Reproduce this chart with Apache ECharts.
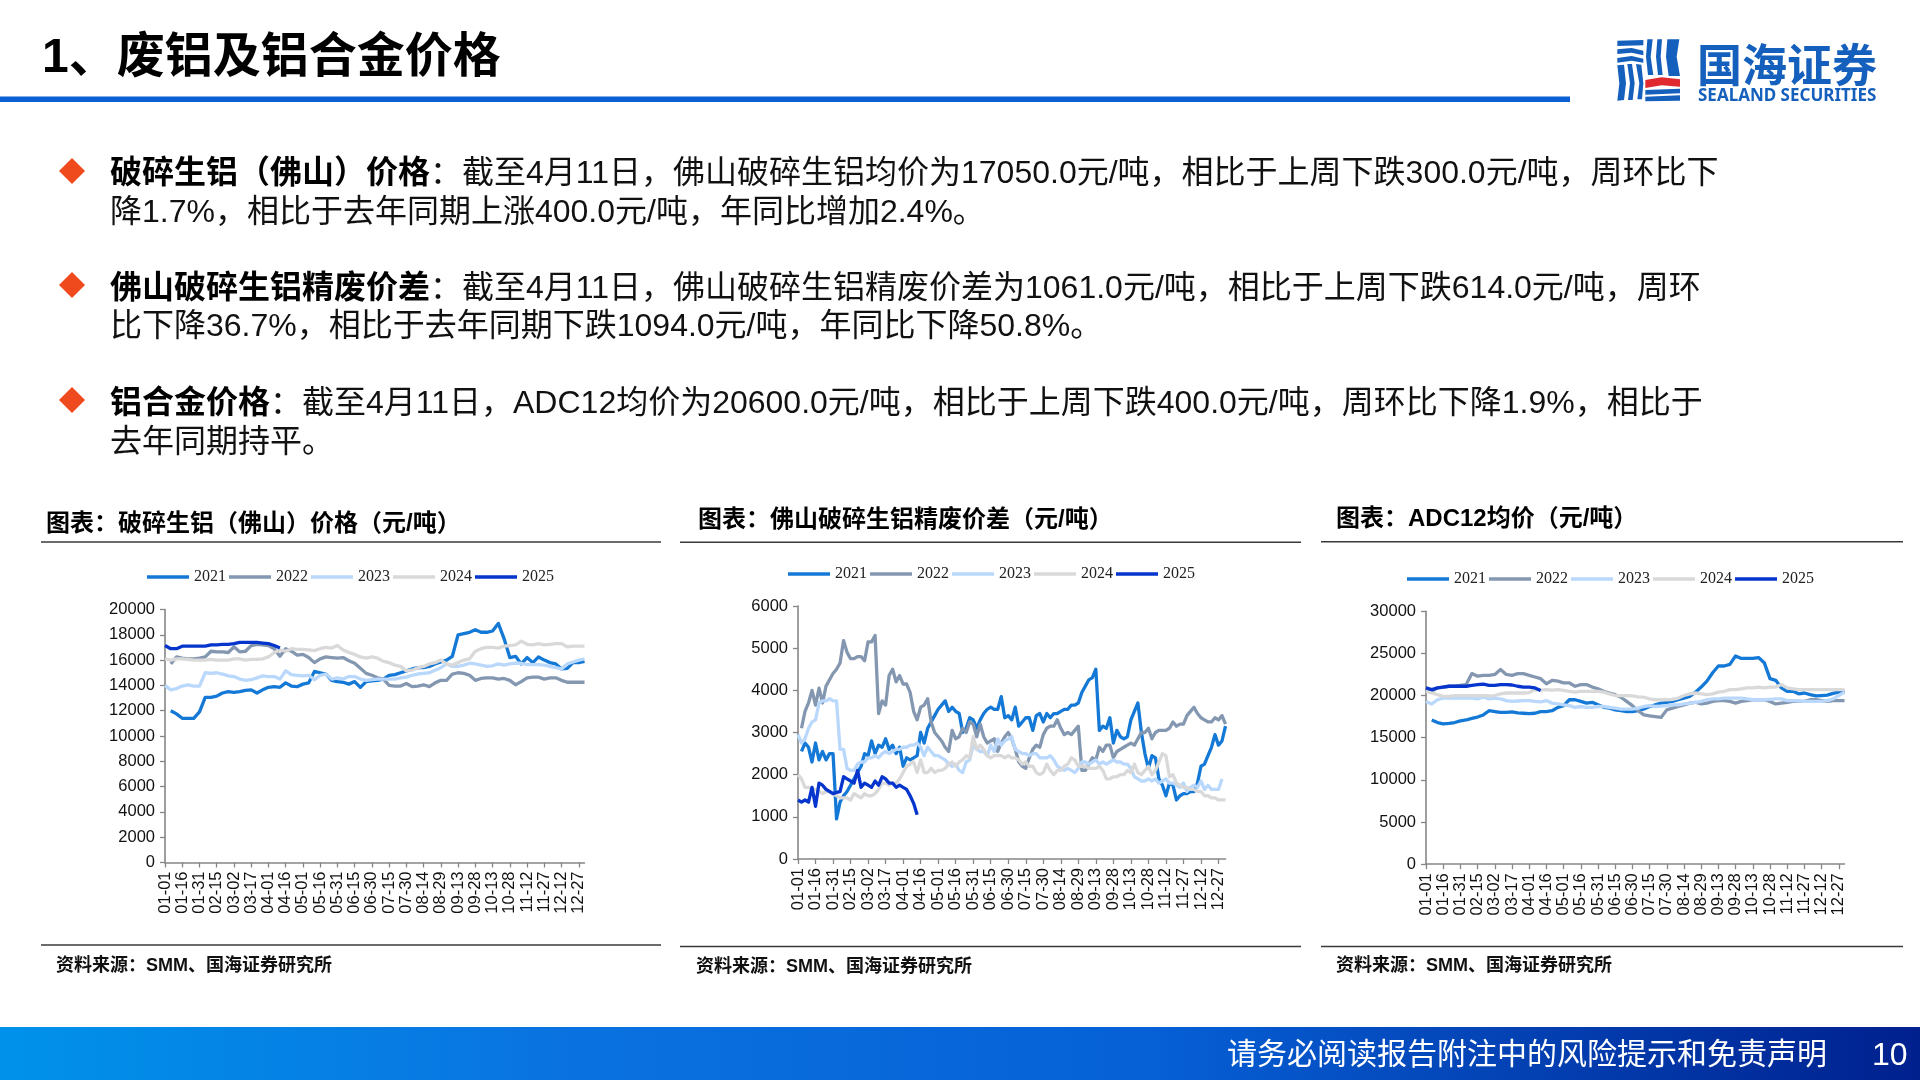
<!DOCTYPE html>
<html><head><meta charset="utf-8">
<style>html,body{margin:0;padding:0;background:#fff}#c{width:1920px;height:1080px}</style>
<script src="https://cdn.jsdelivr.net/npm/echarts@6/dist/echarts.min.js"></script>
</head><body><div id="c"></div>
<script>
const tickLabels=['01-01','01-16','01-31','02-15','03-02','03-17','04-01','04-16','05-01','05-16','05-31','06-15','06-30','07-15','07-30','08-14','08-29','09-13','09-28','10-13','10-28','11-12','11-27','12-12','12-27'];
const years=['2021','2022','2023','2024','2025'];
const colors=['#1479D6','#8497B0','#B9D8FB','#D9D9D9','#0535CC'];

// 破碎生铝（佛山）价格 — one value every 5 days
const scrap2021=[null,12000,11750,11400,11400,11400,11900,13050,13050,13150,13400,13500,13450,13500,13600,13650,13400,13650,13850,13900,13850,14200,13950,13900,14100,14200,15100,15000,14900,14400,14300,14250,14100,14300,13850,14300,14350,14400,14500,14800,14850,15000,15150,15300,15400,15400,15500,15700,15850,16000,16300,18000,18100,18200,18400,18200,18200,18300,18900,17700,16200,16300,15700,16200,15800,16250,16000,15800,15700,15300,15350,15800,15800,15900];
const scrap2022=[null,15700,16250,16150,16100,16100,16150,16250,16700,16650,16650,16600,17050,16650,16700,17150,17250,17200,17150,16900,16300,16900,16700,16400,16450,16200,15800,16100,16250,16200,16150,16200,15950,15750,15350,14950,14800,14600,14500,14000,13950,13950,14150,13900,13950,14050,13900,14200,14400,14400,14900,15000,14950,14800,14400,14550,14600,14600,14500,14550,14400,14050,14300,14600,14650,14650,14500,14600,14600,14400,14250,14250,14250,14250];
const scrap2023=[14000,13650,13750,13950,14050,13950,13950,15000,14950,15000,14900,14750,14700,14500,14400,14450,14600,14750,14700,14700,14500,15150,14850,14800,14750,14800,14450,14800,14900,14500,14600,14500,14700,14700,14500,14400,14450,14500,14500,14500,14500,14600,14650,14800,14900,14950,15000,15200,15400,15700,15500,15500,15600,15750,15700,15600,15500,15550,15700,15600,15700,15750,15750,15650,15650,15650,15600,15500,15400,15300,15700,15850,16000,16100];
const scrap2024=[16100,16000,16100,16100,16050,16000,16000,16000,16050,16000,16000,16000,16100,16100,16000,16050,16050,16100,16250,16600,16800,16700,16900,16850,16850,16800,16750,16900,17000,16950,17150,16800,16600,16450,16250,16150,16250,16150,15900,15800,15600,15500,15150,15200,15400,15500,15700,15800,16000,15700,15600,15800,16000,16100,16700,16900,17000,17000,16950,17100,17150,17200,17500,17250,17200,17300,17200,17250,17300,17300,17050,17100,17100,17100];
const scrap2025=[17150,16900,16900,17100,17100,17100,17100,17100,17200,17200,17250,17250,17300,17400,17400,17400,17400,17350,17300,17150,16950];

// 佛山破碎生铝精废价差 — one value every 3 days
const spread2021=[null,2550,2750,2650,2300,2750,2350,2550,2350,2500,2500,950,1350,1500,1600,1750,1900,2050,2200,2500,2450,2800,2500,2700,2650,2850,2600,2700,2500,2650,2200,2400,2350,2400,2450,3000,2750,3100,3250,3400,3550,3650,3750,3500,3600,3500,3450,3000,3100,3350,3300,3100,3300,3450,3550,3600,3550,3550,3850,3350,3400,3300,3600,3150,3250,3350,3350,3050,3400,3450,3250,3450,3350,3450,3450,3500,3550,3550,3650,3650,3700,3950,4100,4250,4300,4500,3050,3150,3100,3350,2750,3050,2900,2850,2900,3300,3500,3700,3000,2500,2150,2450,2400,1900,1750,1500,1800,1750,1400,1500,1550,1550,1600,1600,1800,2200,2250,2450,2650,2950,2700,2800,3150];
const spread2022=[null,3100,3500,3700,4000,3650,4050,3700,4100,4250,4400,4500,4650,5180,4900,4750,4750,4800,4800,4700,5150,5150,5300,3450,3750,3650,4350,4500,4200,4350,4150,4150,3950,3500,3300,3600,3650,3800,3250,3000,2900,2800,2650,2550,3050,2850,2900,3100,3000,3250,3200,2900,3200,2900,2750,2800,2850,2550,2750,2900,3000,2850,2600,2300,2200,2150,2400,2600,2700,2650,2950,3100,3150,3150,3300,3100,2950,3000,2950,3050,3150,2100,2100,2250,2400,2350,2650,2550,2700,2700,2400,2550,2600,2650,2700,2750,2700,2850,3000,3000,3100,2850,3000,3050,3050,3050,3100,3250,3150,3200,3200,3400,3500,3600,3450,3350,3300,3250,3250,3350,3300,3400,3200];
const spread2023=[2950,2750,2850,3100,3250,3300,3700,3750,3750,3800,3750,3750,2600,2600,2150,2100,2100,2250,2300,2300,2400,2400,2450,2400,2500,2550,2500,2550,2600,2600,2650,2650,2700,2700,2750,2650,2450,2650,2550,2450,2450,2400,2350,2250,2200,2250,2100,2050,2300,2350,2700,2600,2550,2550,2450,2700,2550,2850,2700,2800,2850,2900,2600,2550,2500,2500,2450,2500,2500,2400,2400,2400,2450,2350,2200,2150,2100,2150,2100,2050,2150,2300,2300,2250,2300,2350,2250,2300,2250,2300,2350,2300,2300,2250,2250,2150,1950,1900,1850,1850,1900,1850,1900,1800,1850,1900,1800,1800,1750,1700,1800,1600,1700,1750,1700,1850,1650,1750,1650,1650,1650,1900];
const spread2024=[2000,1900,1700,1700,1650,1650,1600,1550,1600,1600,1550,1500,1450,1450,1450,1400,1550,1500,1450,1550,1500,1500,1550,1650,1800,1800,1750,1800,1800,1900,2050,2200,2250,2300,2050,2350,2050,2050,2150,2050,2100,2100,2150,2250,2300,2200,2300,2350,2450,2400,2900,2600,2700,2600,2450,2400,2450,2450,2450,2400,2450,2400,2400,2350,2250,2300,2200,2200,2050,2000,2050,2250,2100,2000,2100,2100,2200,2250,2400,2350,2200,2200,2200,2150,2150,2150,2200,2100,1900,1900,1950,1950,2000,2000,2100,2050,2250,2050,2000,2100,2200,2000,2100,2300,2500,2450,1950,2000,1800,1750,1700,1700,1650,1650,1600,1600,1500,1500,1450,1450,1400,1400,1400];
const spread2025=[1400,1350,1400,1350,1700,1250,1800,1750,1650,1600,1550,1580,1600,1950,1900,1850,1800,2100,1700,1800,1750,1700,1850,1750,1950,1900,1800,1800,1700,1750,1700,1650,1500,1320,1050];

// ADC12均价 — one value every 5 days
const adc2021=[null,17100,16800,16650,16700,16800,17000,17100,17300,17450,17700,18200,18100,18000,18000,18050,17950,17900,17850,17900,18100,18100,18200,18600,18800,19500,19500,19300,19100,19200,18900,18600,18500,18300,18200,18100,18100,18200,18400,18700,18900,19100,19200,19300,19500,19700,19900,20400,21000,21700,22700,23500,23500,23700,24700,24400,24400,24400,24500,23900,22000,21800,20900,20500,20500,20200,20300,20100,19950,20000,20050,20250,20400,20500];
const adc2022=[20500,20500,20900,21000,21100,21100,21200,21300,22600,22300,22400,22400,22500,23100,22500,22400,22600,22600,22400,22200,22000,21400,21800,21700,21500,21500,21100,21300,21300,21000,20800,20500,20300,20100,19800,19300,18800,18200,17700,17600,17500,17400,18300,18500,18700,18900,19100,19200,19000,19100,19300,19400,19400,19300,19100,19300,19400,19500,19500,19500,19300,19000,19100,19200,19300,19300,19300,19500,19500,19400,19300,19400,19400,19400];
const adc2023=[19300,19000,19500,19700,19700,19700,19700,19700,19700,19600,19800,19600,19700,19600,19400,19300,19350,19400,19400,19300,19250,19400,19100,19000,18900,18800,18600,18700,18600,18600,18700,18700,18600,18500,18400,18400,18400,18500,18700,18800,18700,18750,18800,18900,18900,19000,19100,19200,19300,19500,19600,19600,19700,19700,19700,19700,19600,19500,19500,19500,19550,19600,19600,19400,19400,19350,19300,19300,19300,19300,19400,19600,20000,20400];
const adc2024=[20500,20300,20100,19900,19900,20000,20000,20000,20000,20000,20000,19950,20000,20200,20300,20300,20300,20300,20350,20700,20650,20700,20650,20700,20600,20500,20400,20500,20500,20500,20500,20400,20200,20000,20000,20000,19950,19850,19800,19600,19500,19500,19500,19550,19700,20000,20200,20300,20200,20100,20200,20400,20500,20700,20700,20800,20900,20900,21000,20900,21000,21000,21300,20900,20800,20700,20700,20700,20700,20700,20700,20700,20700,20700];
const adc2025=[20900,20700,20900,21000,21100,21100,21100,21100,21200,21300,21350,21200,21200,21300,21300,21250,21100,21000,21000,20900,20600];

const mainTitle='1、废铝及铝合金价格';
const paragraphs=[
 ['破碎生铝（佛山）价格','：截至4月11日，佛山破碎生铝均价为17050.0元/吨，相比于上周下跌300.0元/吨，周环比下','降1.7%，相比于去年同期上涨400.0元/吨，年同比增加2.4%。'],
 ['佛山破碎生铝精废价差','：截至4月11日，佛山破碎生铝精废价差为1061.0元/吨，相比于上周下跌614.0元/吨，周环','比下降36.7%，相比于去年同期下跌1094.0元/吨，年同比下降50.8%。'],
 ['铝合金价格','：截至4月11日，ADC12均价为20600.0元/吨，相比于上周下跌400.0元/吨，周环比下降1.9%，相比于','去年同期持平。']
];
const chartTitles=['图表：破碎生铝（佛山）价格（元/吨）','图表：佛山破碎生铝精废价差（元/吨）','图表：ADC12均价（元/吨）'];
const sourceText='资料来源：SMM、国海证券研究所';
const footerText='请务必阅读报告附注中的风险提示和免责声明';
const pageNo='10';

const FF='"Liberation Sans","Noto Sans CJK SC",sans-serif';
const panels=[
 {data:[scrap2021,scrap2022,scrap2023,scrap2024,scrap2025],max:20000,step:2000,blanks:2,count:74,
  grid:{left:165,top:609.5,width:419.5,height:253},legendX:147,legendY:569,titleX:46,titleY:525,ruleX:[41,661],ruleY:[542,945],srcX:56,srcY:967},
 {data:[spread2021,spread2022,spread2023,spread2024,spread2025],max:6000,step:1000,blanks:4,count:123,
  grid:{left:798,top:606,width:427.5,height:253},legendX:788,legendY:566,titleX:698,titleY:521,ruleX:[680,1301],ruleY:[542.3,946.5],srcX:696,srcY:968},
 {data:[adc2021,adc2022,adc2023,adc2024,adc2025],max:30000,step:5000,blanks:2,count:74,
  grid:{left:1426,top:611.2,width:418.5,height:253},legendX:1407,legendY:571,titleX:1336,titleY:520,ruleX:[1321,1903],ruleY:[541.7,946.5],srcX:1336,srcY:967}
];
const axisGrey='#868686';
const grid=[],xAxis=[],yAxis=[],legend=[],series=[],graphic=[];
panels.forEach((p,k)=>{
  grid.push(p.grid);
  const cats=tickLabels.flatMap(l=>[l,...Array(p.blanks).fill('')]).slice(0,p.count);
  xAxis.push({type:'category',gridIndex:k,data:cats,boundaryGap:false,
    axisLine:{show:true,onZero:false,lineStyle:{color:axisGrey,width:1.6}},
    axisTick:{show:true,interval:p.blanks,length:5,lineStyle:{color:axisGrey,width:1.3}},
    axisLabel:{interval:p.blanks,rotate:90,margin:9,fontSize:16.5,color:'#111',fontFamily:FF,hideOverlap:false,padding:[11,0,0,0]}});
  yAxis.push({type:'value',gridIndex:k,min:0,max:p.max,interval:p.step,splitLine:{show:false},
    axisLine:{show:true,lineStyle:{color:axisGrey,width:1.6}},
    axisTick:{show:true,length:5,lineStyle:{color:axisGrey,width:1.3}},
    axisLabel:{margin:10,fontSize:16.5,color:'#111',fontFamily:FF,formatter:v=>String(v)}});
  legend.push({left:p.legendX,top:p.legendY,orient:'horizontal',itemWidth:42,itemHeight:3.4,itemGap:3,icon:'rect',
    padding:0,data:years,selectedMode:false,
    textStyle:{fontFamily:'"Liberation Serif",serif',fontSize:16,color:'#222'}});
  years.forEach((y,i)=>series.push({type:'line',name:y,xAxisIndex:k,yAxisIndex:k,data:p.data[i],
    showSymbol:false,symbol:'none',smooth:false,connectNulls:false,animation:false,silent:true,
    lineStyle:{color:colors[i],width:3.3,join:'round'},itemStyle:{color:colors[i]},z:2+i}));
  graphic.push({type:'text',left:p.titleX,top:p.titleY-13,silent:true,style:{text:chartTitles[k],font:'bold 24px '+FF,fill:'#000'}});
  p.ruleY.forEach((ry,j)=>graphic.push({type:'rect',silent:true,shape:{x:p.ruleX[0],y:ry-0.8,width:p.ruleX[1]-p.ruleX[0],height:1.6},style:{fill:'#3a3a3a'}}));
  graphic.push({type:'text',left:p.srcX,top:p.srcY-10,silent:true,style:{text:sourceText,font:'bold 18px '+FF,fill:'#111'}});
});
// header
graphic.push({type:'text',left:42,top:35,silent:true,style:{text:mainTitle,font:'bold 48px '+FF,fill:'#000'}});
graphic.push({type:'rect',silent:true,shape:{x:0,y:96.5,width:1570,height:5.5},style:{fill:'#0A5FD5'}});
// paragraphs
const lineY=[[174,213],[289,327],[404.5,443.5]];
const diaY=[171,285,400];
paragraphs.forEach((par,i)=>{
  graphic.push({type:'polygon',silent:true,shape:{points:[[72,diaY[i]-13],[85,diaY[i]],[72,diaY[i]+13],[59,diaY[i]]]},style:{fill:'#EE4A1E'}});
  graphic.push({type:'text',x:110,y:lineY[i][0],silent:true,style:{verticalAlign:'middle',text:'{b|'+par[0]+'}{n|'+par[1]+'}',
    rich:{b:{font:'bold 32px '+FF,fill:'#000'},n:{font:'32px '+FF,fill:'#111'}}}});
  graphic.push({type:'text',x:110,y:lineY[i][1],silent:true,style:{verticalAlign:'middle',text:par[2],font:'32px '+FF,fill:'#111'}});
});
// footer
graphic.push({type:'rect',silent:true,shape:{x:0,y:1027,width:1920,height:53},style:{fill:new echarts.graphic.LinearGradient(0,0,1,0,[{offset:0,color:'#0092EA'},{offset:0.3,color:'#0A72E0'},{offset:0.6,color:'#0660D6'},{offset:1,color:'#00208E'}])}});
graphic.push({type:'text',x:1227,y:1056,silent:true,z:5,style:{verticalAlign:'middle',text:footerText,font:'30px '+FF,fill:'#fff'}});
graphic.push({type:'text',x:1872,y:1056,silent:true,z:5,style:{verticalAlign:'middle',text:pageNo,font:'32px '+FF,fill:'#fff'}});
// logo
const B='#1560BC';
const lp=(pts,c)=>graphic.push({type:'polygon',silent:true,shape:{points:pts.map(q=>[1560+q[0]/3,20+q[1]/3])},style:{fill:c}});
lp([[172,62],[250,60],[250,76],[172,78]],B);
lp([[172,88],[215,84],[250,92],[250,106],[215,98],[172,102]],B);
lp([[172,114],[215,108],[250,116],[250,128],[215,122],[172,128]],B);
lp([[172,136],[192,134],[198,190],[192,240],[172,242],[178,190]],B);
lp([[202,132],[216,132],[224,190],[218,240],[204,240],[210,190]],B);
lp([[228,132],[244,134],[250,190],[246,238],[232,238],[238,190]],B);
lp([[262,58],[278,58],[272,110],[280,165],[264,165],[258,110]],B);
lp([[292,58],[306,58],[302,110],[308,165],[294,165],[288,110]],B);
lp([[322,58],[358,58],[350,110],[360,168],[326,168],[318,110]],B);
lp([[256,180],[305,172],[360,178],[360,200],[305,196],[256,204]],'#E02A30');
lp([[256,210],[360,206],[360,220],[256,224]],B);
lp([[256,230],[360,226],[360,242],[256,244]],B);
graphic.push({type:'text',x:1697,y:65,silent:true,style:{verticalAlign:'middle',text:'国海证券',font:'bold 45px "Noto Sans CJK SC",sans-serif',fill:B}});
graphic.push({type:'text',x:1698,y:96,silent:true,style:{verticalAlign:'middle',text:'SEALAND SECURITIES',font:'bold 17px "Noto Sans",sans-serif',fill:B}});

const chart=echarts.init(document.getElementById('c'),null,{renderer:'canvas',width:1920,height:1080});
chart.setOption({animation:false,backgroundColor:'#fff',grid,xAxis,yAxis,legend,series,graphic});
</script></body></html>
